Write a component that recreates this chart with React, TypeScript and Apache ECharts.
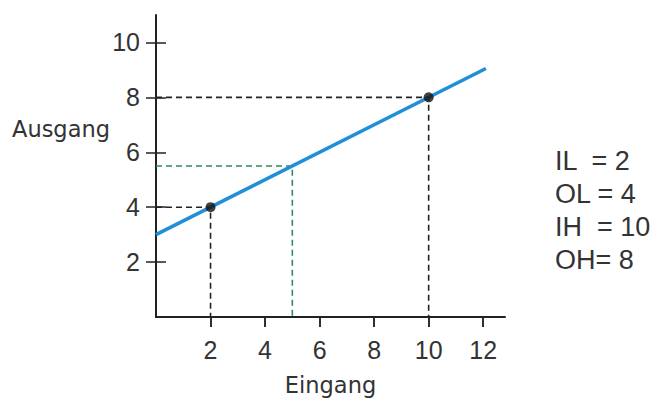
import React, { useEffect, useRef } from "react";
import * as echarts from "echarts";

const xTicks = [2, 4, 6, 8, 10, 12];
const yTicks = [2, 4, 6, 8, 10];
const transferX = [0, 12.1];
const transferY = [3, 9.05];
const pointX = [2, 10];
const pointY = [4, 8];
const markX = 5;
const markY = 5.5;
const paramLines = ["IL  = 2", "OL = 4", "IH  = 10", "OH= 8"];
const xName = "Eingang";
const yName = "Ausgang";

const FONT = "Liberation Sans, Arial, sans-serif";
const TEXT = "#333";

export default function App() {
  const ref = useRef<HTMLDivElement>(null);
  useEffect(() => {
    if (!ref.current) return;
    const chart = echarts.init(ref.current, null, { renderer: "svg" });
    const axisCommon = {
      type: "value" as const,
      splitLine: { show: false },
    };
    const dashBlack = { color: "#222", width: 1.6, type: [6, 4] as any };
    const dashGreen = { color: "#2f8a5e", width: 1.6, type: [6, 4] as any };
    const seg = (pts: number[][], ls: any) => ({
      type: "line",
      data: pts,
      symbol: "none",
      lineStyle: ls,
      silent: true,
      z: 1,
    });
    chart.setOption({
      animation: false,
      backgroundColor: "#fff",
      grid: { left: 156, right: 157, top: 15, bottom: 86 },
      xAxis: [
        {
          ...axisCommon,
          min: 0,
          max: 12.8,
          interval: 2,
          name: xName,
          nameLocation: "middle",
          nameGap: 56,
          nameTextStyle: { fontFamily: "DejaVu Sans", fontSize: 22.5, color: TEXT },
          axisLine: { show: true, lineStyle: { color: "#222", width: 2 } },
          axisTick: { show: true, length: 10, customValues: xTicks, lineStyle: { color: "#222", width: 1.5 } },
          axisLabel: { customValues: xTicks, margin: 20, fontSize: 25, fontFamily: FONT, color: TEXT },
        },
        {
          ...axisCommon,
          min: 0,
          max: 12.8,
          interval: 2,
          axisLine: { show: false },
          axisTick: { show: true, inside: true, length: 10, customValues: xTicks, lineStyle: { color: "#222", width: 1.5 } },
          axisLabel: { show: false },
        },
      ],
      yAxis: [
        {
          ...axisCommon,
          min: 0,
          max: 11,
          interval: 2,
          axisLine: { show: true, lineStyle: { color: "#222", width: 2 } },
          axisTick: { show: true, length: 10, customValues: yTicks, lineStyle: { color: "#222", width: 1.5 } },
          axisLabel: { customValues: yTicks, margin: 16, fontSize: 25, fontFamily: FONT, color: TEXT },
        },
        {
          ...axisCommon,
          min: 0,
          max: 11,
          interval: 2,
          position: "left",
          axisLine: { show: false },
          axisTick: { show: true, inside: true, length: 10, customValues: yTicks, lineStyle: { color: "#222", width: 1.5 } },
          axisLabel: { show: false },
        },
      ],
      graphic: [
        {
          type: "text",
          left: 12,
          top: 117,
          style: { text: yName, fontFamily: "DejaVu Sans", fontSize: 22.5, fill: TEXT },
        },
        ...paramLines.map((t, i) => ({
          type: "text",
          left: 555,
          top: 147 + i * 33,
          style: { text: t, fontFamily: FONT, fontSize: 27, fill: TEXT },
        })),
      ],
      series: [
        seg([[0, pointY[0]], [pointX[0], pointY[0]], [pointX[0], 0]], dashBlack),
        seg([[0, pointY[1]], [pointX[1], pointY[1]], [pointX[1], 0]], dashBlack),
        seg([[0, markY], [markX, markY], [markX, 0]], dashGreen),
        {
          type: "line",
          data: transferX.map((x, i) => [x, transferY[i]]),
          symbol: "none",
          lineStyle: { color: "#1f8fd8", width: 3.5 },
          z: 2,
        },
        {
          type: "scatter",
          data: pointX.map((x, i) => [x, pointY[i]]),
          symbolSize: 10,
          itemStyle: { color: "#111" },
          z: 3,
        },
      ],
    });
    return () => chart.dispose();
  }, []);
  return (
    <div
      ref={ref}
      style={{ position: "fixed", left: 0, top: 0, width: 662, height: 403 }}
    />
  );
}
